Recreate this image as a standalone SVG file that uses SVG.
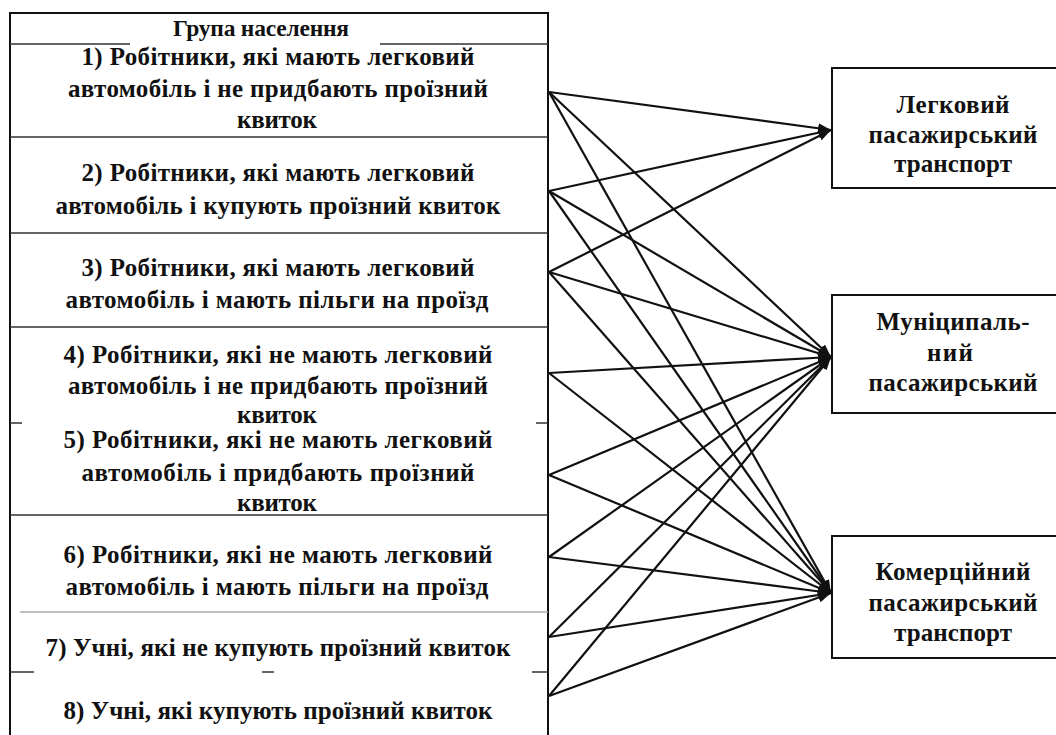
<svg xmlns="http://www.w3.org/2000/svg" width="1056" height="735" viewBox="0 0 1056 735">
<style>
  .t { font-family: "Liberation Serif", "Times New Roman", serif; font-weight: bold; font-size: 25px; fill: #111; text-anchor: middle; }
  .h { font-size: 23.5px; }
  .box { fill: #fff; stroke: #111; stroke-width: 2; }
  .sep { stroke: #333; stroke-width: 1.6; fill: none; }
  .faint { stroke: #aaa; stroke-width: 1.4; fill: none; }
  .edge { stroke: #111; stroke-width: 2.2; fill: none; marker-end: url(#arr); }
</style>
<defs>
  <marker id="arr" markerUnits="userSpaceOnUse" markerWidth="14" markerHeight="12" refX="13" refY="6" orient="auto">
    <path d="M0,1 L13,6 L0,11 Z" fill="#111"/>
  </marker>
</defs>
<rect width="1056" height="735" fill="#fff"/>

<g id="population-table">
  <rect class="box" x="10" y="13" width="538" height="730"/>
  <path class="sep" d="M10,44 H130 M380,44 H548"/>
  <line class="sep" x1="10" y1="137" x2="548" y2="137"/>
  <line class="sep" x1="10" y1="233" x2="548" y2="233"/>
  <line class="sep" x1="10" y1="327" x2="548" y2="327"/>
  <path class="sep" d="M10,423 H22 M536,423 H548"/>
  <line class="sep" x1="10" y1="515" x2="548" y2="515"/>
  <line class="faint" x1="20" y1="612" x2="548" y2="612"/>
  <path class="sep" d="M10,672 H34 M262,672 H274 M532,672 H548"/>
</g>

<g id="header">
  <text class="t h" x="261" y="36" textLength="176">Група населення</text>
</g>
<g id="row1">
  <text class="t" x="278" y="65" textLength="393">1) Робітники, які мають легковий</text>
  <text class="t" x="278" y="97" textLength="420">автомобіль і не придбають проїзний</text>
  <text class="t" x="277" y="128" textLength="80">квиток</text>
</g>
<g id="row2">
  <text class="t" x="278" y="181" textLength="393">2) Робітники, які мають легковий</text>
  <text class="t" x="278" y="214" textLength="445">автомобіль і купують проїзний квиток</text>
</g>
<g id="row3">
  <text class="t" x="278" y="276" textLength="393">3) Робітники, які мають легковий</text>
  <text class="t" x="277" y="308" textLength="423">автомобіль і мають пільги на проїзд</text>
</g>
<g id="row4">
  <text class="t" x="278" y="363" textLength="429">4) Робітники, які не мають легковий</text>
  <text class="t" x="278" y="394" textLength="420">автомобіль і не придбають проїзний</text>
  <text class="t" x="277" y="423" textLength="80">квиток</text>
</g>
<g id="row5">
  <text class="t" x="278" y="448" textLength="429">5) Робітники, які не мають легковий</text>
  <text class="t" x="278" y="481" textLength="393">автомобіль і придбають проїзний</text>
  <text class="t" x="277" y="511" textLength="80">квиток</text>
</g>
<g id="row6">
  <text class="t" x="278" y="563" textLength="429">6) Робітники, які не мають легковий</text>
  <text class="t" x="277" y="595" textLength="423">автомобіль і мають пільги на проїзд</text>
</g>
<g id="row7">
  <text class="t" x="278" y="656" textLength="465">7) Учні, які не купують проїзний квиток</text>
</g>
<g id="row8">
  <text class="t" x="278" y="719" textLength="429">8) Учні, які купують проїзний квиток</text>
</g>

<g id="passenger-car">
  <rect class="box" x="832" y="68" width="240" height="120"/>
  <text class="t" x="953" y="113" textLength="113">Легковий</text>
  <text class="t" x="953" y="143" textLength="169">пасажирський</text>
  <text class="t" x="953" y="172" textLength="118">транспорт</text>
</g>
<g id="municipal">
  <rect class="box" x="832" y="295" width="240" height="118"/>
  <text class="t" x="953" y="330" textLength="153">Муніципаль-</text>
  <text class="t" x="950" y="361" textLength="46">ний</text>
  <text class="t" x="953" y="391" textLength="169">пасажирський</text>
</g>
<g id="commercial">
  <rect class="box" x="832" y="536" width="240" height="122"/>
  <text class="t" x="953" y="580" textLength="155">Комерційний</text>
  <text class="t" x="953" y="611" textLength="169">пасажирський</text>
  <text class="t" x="953" y="641" textLength="118">транспорт</text>
</g>

<g id="connectors">
  <line class="edge" x1="549" y1="92" x2="831" y2="130"/>
  <line class="edge" x1="549" y1="191" x2="831" y2="130"/>
  <line class="edge" x1="549" y1="272" x2="831" y2="130"/>
  <line class="edge" x1="549" y1="92" x2="831" y2="357"/>
  <line class="edge" x1="549" y1="191" x2="831" y2="357"/>
  <line class="edge" x1="549" y1="272" x2="831" y2="357"/>
  <line class="edge" x1="549" y1="373" x2="831" y2="357"/>
  <line class="edge" x1="549" y1="475" x2="831" y2="357"/>
  <line class="edge" x1="549" y1="557" x2="831" y2="357"/>
  <line class="edge" x1="549" y1="637" x2="831" y2="357"/>
  <line class="edge" x1="549" y1="696" x2="831" y2="357"/>
  <line class="edge" x1="549" y1="92" x2="831" y2="593"/>
  <line class="edge" x1="549" y1="191" x2="831" y2="593"/>
  <line class="edge" x1="549" y1="272" x2="831" y2="593"/>
  <line class="edge" x1="549" y1="373" x2="831" y2="593"/>
  <line class="edge" x1="549" y1="475" x2="831" y2="593"/>
  <line class="edge" x1="549" y1="557" x2="831" y2="593"/>
  <line class="edge" x1="549" y1="637" x2="831" y2="593"/>
  <line class="edge" x1="549" y1="696" x2="831" y2="593"/>
</g>
</svg>
